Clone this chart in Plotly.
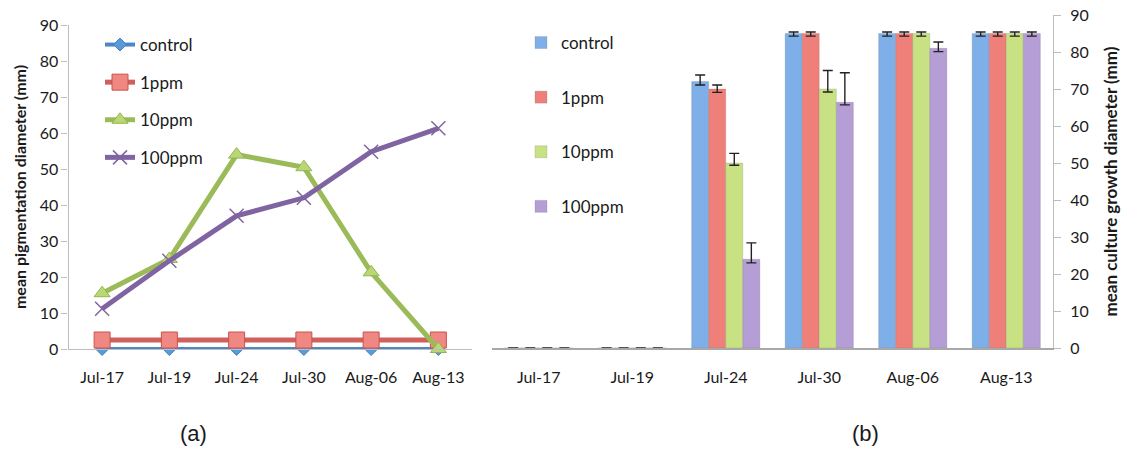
import plotly.graph_objects as go

# Sampling dates shared by both panels
dates = ["Jul-17", "Jul-19", "Jul-24", "Jul-30", "Aug-06", "Aug-13"]
series_names = ["control", "1ppm", "10ppm", "100ppm"]

# (a) mean pigmentation diameter (mm)
pig_control = [0, 0, 0, 0, 0, 0]
pig_1ppm = [2.5, 2.5, 2.5, 2.5, 2.5, 2.5]
pig_10ppm = [15.5, 25.0, 54.0, 50.5, 21.3, 0]
pig_100ppm = [11.2, 24.5, 37.0, 42.0, 54.8, 61.3]

# (b) mean culture growth diameter (mm) with error bars
growth_control = [0, 0, 72.0, 85.0, 85.0, 85.0]
growth_1ppm = [0, 0, 70.0, 85.0, 85.0, 85.0]
growth_10ppm = [0, 0, 50.0, 70.0, 85.0, 85.0]
growth_100ppm = [0, 0, 24.0, 66.4, 81.0, 85.0]

err_plus_control = [0, 0, 1.8, 0.4, 0.4, 0.4]
err_minus_control = [0, 0, 0.9, 0.7, 0.7, 0.7]
err_plus_1ppm = [0, 0, 1.1, 0.4, 0.4, 0.4]
err_minus_1ppm = [0, 0, 0.9, 0.7, 0.7, 0.7]
err_plus_10ppm = [0, 0, 2.6, 5.0, 0.4, 0.4]
err_minus_10ppm = [0, 0, 0.6, 0.8, 0.7, 0.7]
err_plus_100ppm = [0, 0, 4.4, 8.0, 1.7, 0.4]
err_minus_100ppm = [0, 0, 1.0, 0.7, 0.9, 0.7]

W, H = 1121, 451
TEXT = "#1a1a1a"
FONT = "Lato"


def fx(p):
    return p / W


def fy(p):
    return 1 - p / H


fig = go.Figure()

# ---- panel (a): line chart ----
line_styles = [
    (pig_control, "#4f86c6", 4, dict(symbol="diamond", size=10, color="#5b9ad9",
                                     line=dict(color="#4a7ebb", width=1))),
    (pig_1ppm, "#d0605c", 5, dict(symbol="square", size=16, color="#ef8782",
                                  line=dict(color="#c9524e", width=1))),
    (pig_10ppm, "#9bbb59", 5, dict(symbol="triangle-up", size=14, color="#b9d774",
                                   line=dict(color="#93b550", width=1))),
    (pig_100ppm, "#8064a2", 5, dict(symbol="x-thin", size=14, color="#8064a2",
                                    line=dict(color="#8064a2", width=1.5))),
]
for name, (vals, col, lw, mk) in zip(series_names, line_styles):
    fig.add_trace(go.Scatter(
        x=dates, y=vals, name=name, mode="lines+markers",
        line=dict(color=col, width=lw), marker=mk,
        xaxis="x", yaxis="y", legend="legend", legendgroup="a_" + name,
        cliponaxis=False,
    ))

# ---- panel (b): grouped bars ----
bar_sets = [
    (growth_control, err_plus_control, err_minus_control, "#7eafe8"),
    (growth_1ppm, err_plus_1ppm, err_minus_1ppm, "#ef7f79"),
    (growth_10ppm, err_plus_10ppm, err_minus_10ppm, "#c8e283"),
    (growth_100ppm, err_plus_100ppm, err_minus_100ppm, "#b59dd6"),
]
for name, (vals, ep, em, col) in zip(series_names, bar_sets):
    fig.add_trace(go.Bar(
        x=dates, y=vals, name=name,
        marker=dict(color=col, line=dict(color="rgba(110,110,110,0.35)", width=0.6)),
        error_y=dict(type="data", symmetric=False, array=ep, arrayminus=em,
                     color="#222222", thickness=1.4, width=5),
        xaxis="x2", yaxis="y2", legend="legend2", legendgroup="b_" + name,
    ))

axis_font = dict(family=FONT, size=16, color=TEXT)

fig.update_layout(
    template="none",
    width=W, height=H,
    margin=dict(l=0, r=0, t=0, b=0, autoexpand=False),
    paper_bgcolor="white", plot_bgcolor="white",
    barmode="group", bargap=0.27, bargroupgap=0,
    showlegend=True,
    xaxis=dict(domain=[fx(68.5), fx(472)], anchor="y", type="category",
               range=[-0.5, 5.5], showgrid=False, zeroline=False, automargin=False,
               showline=True, linecolor="#bdbdbd", linewidth=1.2,
               ticks="", tickfont=axis_font, ticklabelstandoff=14),
    yaxis=dict(domain=[fy(349), fy(25)], anchor="x", range=[0, 90], dtick=10,
               showgrid=False, zeroline=False, showline=True, automargin=False,
               linecolor="#bdbdbd", linewidth=1.2, ticks="outside", ticklen=6,
               tickcolor="#bdbdbd", tickfont=axis_font,
               title=dict(text="mean pigmentation diameter (mm)",
                          font=dict(family=FONT, size=16, color=TEXT, weight="bold"))),
    xaxis2=dict(domain=[fx(492), fx(1053)], anchor="y2", type="category",
                range=[-0.5, 5.5], showgrid=False, zeroline=False, automargin=False,
                showline=True, linecolor="#a8a8a8", linewidth=1.5,
                ticks="", tickfont=axis_font, ticklabelstandoff=14),
    yaxis2=dict(domain=[fy(348), fy(15)], anchor="x2", side="right",
                range=[0, 90], dtick=10, showgrid=False, zeroline=False,
                showline=True, linecolor="#bdbdbd", linewidth=1.2, automargin=False,
                ticks="outside", ticklen=7, tickcolor="#bdbdbd",
                tickfont=axis_font, ticklabelstandoff=6,
                title=dict(text="mean culture growth diameter (mm)", standoff=18,
                           font=dict(family=FONT, size=17, color=TEXT, weight="bold"))),
    legend=dict(x=fx(100), y=fy(27), xanchor="left", yanchor="top",
                bgcolor="rgba(0,0,0,0)", font=dict(family=FONT, size=17, color=TEXT),
                traceorder="grouped", tracegroupgap=12.5),
    legend2=dict(x=fx(521), y=fy(25), xanchor="left", yanchor="top",
                 bgcolor="rgba(0,0,0,0)", font=dict(family=FONT, size=17, color=TEXT),
                 traceorder="grouped", tracegroupgap=29.5),
    annotations=[
        dict(text="(a)", x=fx(193), y=fy(433), xref="paper", yref="paper",
             xanchor="center", yanchor="middle", showarrow=False,
             font=dict(family="Liberation Sans", size=22, color=TEXT)),
        dict(text="(b)", x=fx(865), y=fy(433), xref="paper", yref="paper",
             xanchor="center", yanchor="middle", showarrow=False,
             font=dict(family="Liberation Sans", size=22, color=TEXT)),
    ],
)

fig.write_html("out.html")
